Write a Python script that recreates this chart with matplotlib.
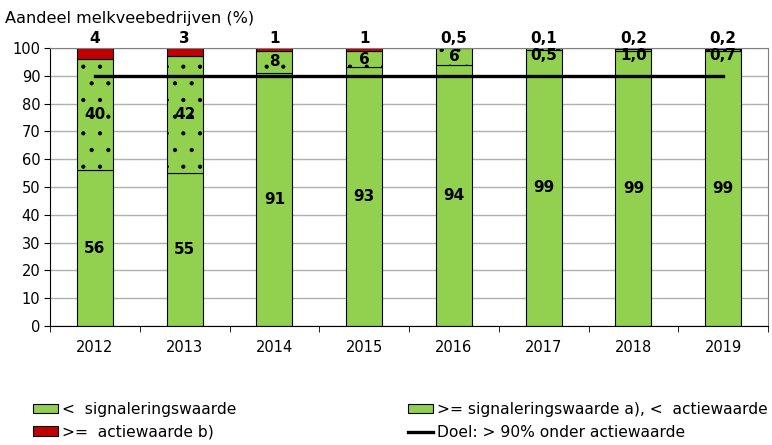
import numpy as np
import matplotlib
matplotlib.use("Agg")
from matplotlib import pyplot as plt
from matplotlib.patches import Patch
from matplotlib.lines import Line2D

years = ["2012", "2013", "2014", "2015", "2016", "2017", "2018", "2019"]
below_signal = [56, 55, 91, 93, 94, 99.4, 98.8, 99.1]
between = [40, 42, 8, 6, 6, 0.5, 1.0, 0.7]
above_action = [4, 3, 1, 1, 0.5, 0.1, 0.2, 0.2]
below_labels = ["56", "55", "91", "93", "94", "99", "99", "99"]
between_labels = ["40", "42", "8", "6", "6", "0,5", "1,0", "0,7"]
above_labels = ["4", "3", "1", "1", "0,5", "0,1", "0,2", "0,2"]
goal = 90

GREEN = "#92D050"
RED = "#C00000"

plt.rcParams["font.family"] = ["DejaVu Sans"]
plt.rcParams["hatch.linewidth"] = 0.6

fig = plt.figure(figsize=(7.72, 4.45), dpi=100)
ax = fig.add_axes([50 / 772, 1 - 326 / 445, 718 / 772, 278 / 445])

x = np.arange(len(years))
below = np.array(below_signal)
mid = np.array(between)
top = np.array(above_action)
w = 0.4

ax.bar(x, below, w, color=GREEN, edgecolor="black", linewidth=0.8, zorder=2)
ax.bar(x, mid, w, bottom=below, color=GREEN, edgecolor="black", linewidth=0.8,
       hatch=".", zorder=2)
ax.bar(x, top, w, bottom=below + mid, color=RED, edgecolor="black", linewidth=0.8, zorder=2)
ax.plot([x[0], x[-1]], [goal, goal], color="black", linewidth=2.4, zorder=4)

for i in range(len(years)):
    ax.text(x[i], below[i] / 2, below_labels[i], ha="center", va="center",
            fontsize=11, fontweight="bold", zorder=5)
    ymid = min(below[i] + mid[i] / 2, 97.3)
    ax.text(x[i], ymid, between_labels[i], ha="center", va="center",
            fontsize=11, fontweight="bold", zorder=5)
    ax.annotate(above_labels[i], (x[i], 100), xytext=(0, 1.5), textcoords="offset points",
                ha="center", va="bottom", fontsize=11, fontweight="bold",
                annotation_clip=False)

ax.set_xlim(-0.5, len(years) - 0.5)
ax.set_ylim(0, 100)
ax.set_yticks(range(0, 101, 10))
ax.set_xticks(x)
ax.set_xticklabels(years)
ax.set_xticks(np.arange(-0.5, len(years), 1), minor=True)
ax.tick_params(axis="x", which="major", length=0, pad=10, labelsize=10.5)
ax.tick_params(axis="x", which="minor", length=4, color="black")
ax.tick_params(axis="y", length=4, labelsize=10.5, pad=3)
ax.grid(axis="y", color="#b0b0b0", linewidth=1, zorder=0)
ax.set_axisbelow(True)
for side in ["top", "right"]:
    ax.spines[side].set_color("#808080")
ax.spines["left"].set_color("black")
ax.spines["bottom"].set_color("black")

fig.text(5 / 772, 1 - 18 / 445, "Aandeel melkveebedrijven (%)", fontsize=11.6,
         va="center", ha="left")

h_green = Patch(facecolor=GREEN, edgecolor="black", linewidth=0.8)
h_red = Patch(facecolor=RED, edgecolor="black", linewidth=0.8)
h_dot = Patch(facecolor=GREEN, edgecolor="black", linewidth=0.8, hatch=".")
h_line = Line2D([], [], color="black", linewidth=2.4)

common = dict(frameon=False, fontsize=11.2, handlelength=1.6, handleheight=0.6,
              handletextpad=0.25, labelspacing=0.5, borderaxespad=0, borderpad=0)
fig.legend([h_green, h_red], ["<  signaleringswaarde", ">=  actiewaarde b)"],
           loc="upper left", bbox_to_anchor=(33 / 772, 1 - 402 / 445), **common)
fig.legend([h_dot, h_line], [">= signaleringswaarde a), <  actiewaarde",
                             "Doel: > 90% onder actiewaarde"],
           loc="upper left", bbox_to_anchor=(408 / 772, 1 - 402 / 445), **common)

fig.savefig("out.png", dpi=100)
